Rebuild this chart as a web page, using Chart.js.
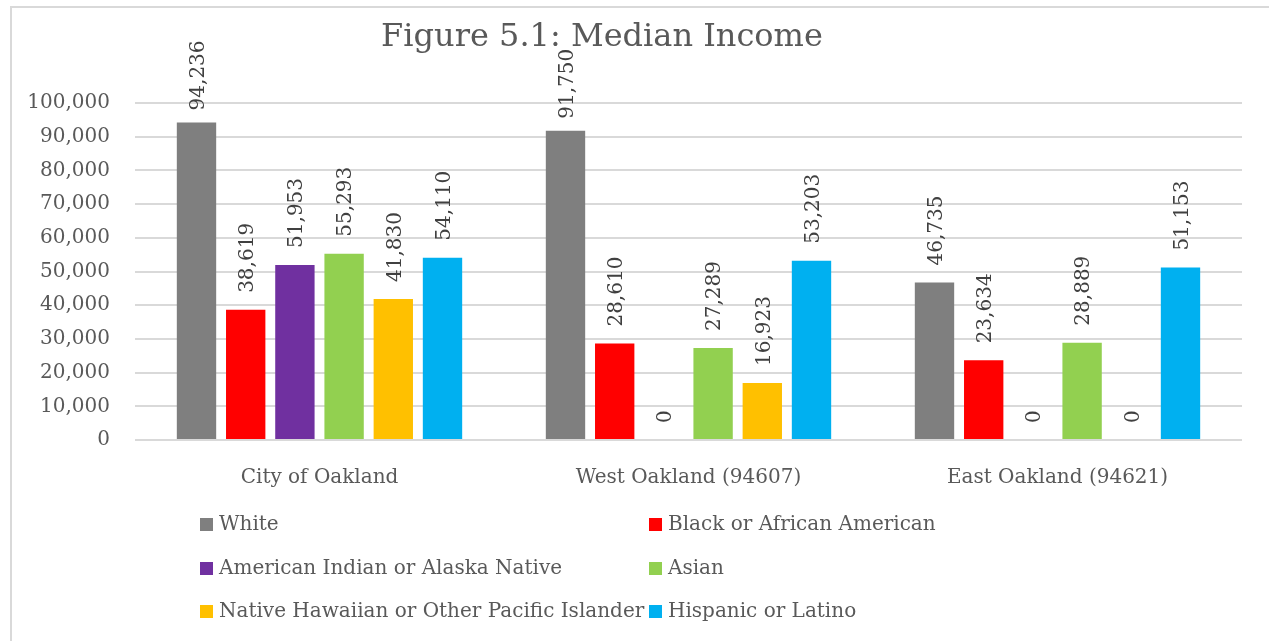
<!DOCTYPE html>
<html>
<head>
<meta charset="utf-8">
<script src="https://cdn.jsdelivr.net/npm/chart.js@4/dist/chart.umd.min.js"></script>
<style>
  html, body { margin: 0; padding: 0; background: #fff; }
  #wrap { width: 1269px; height: 641px; position: relative; }
</style>
</head>
<body>
<div id="wrap"><canvas id="grafica" width="1269" height="641"></canvas></div>
<script>
// datos
const areas = ['City of Oakland', 'West Oakland (94607)', 'East Oakland (94621)']
const grupos = ['White', 'Black or African American', 'American Indian or Alaska Native', 'Asian', 'Native Hawaiian or Other Pacific Islander', 'Hispanic or Latino']
const white = [94236, 91750, 46735]
const black = [38619, 28610, 23634]
const indian = [51953, 0, 0]
const asian = [55293, 27289, 28889]
const hawaiian = [41830, 16923, 0]
const latino = [54110, 53203, 51153]
const colores = ['#7f7f7f', '#ff0000', '#7030a0', '#92d050', '#ffc000', '#00b0f0']
const yTicks = [0, 10000, 20000, 30000, 40000, 50000, 60000, 70000, 80000, 90000, 100000]

const series = [white, black, indian, asian, hawaiian, latino]
const fuente = 'DejaVu Serif'

// marco gris, título, etiquetas de valor y leyenda
const extras = {
  id: 'extras',
  beforeDraw(chart) {
    const ctx = chart.ctx
    ctx.save()
    ctx.fillStyle = '#d9d9d9'
    ctx.fillRect(10, 6, chart.width - 10, 2)
    ctx.fillRect(10, 6, 2, chart.height - 6)
    ctx.restore()
  },
  afterDatasetsDraw(chart) {
    const ctx = chart.ctx
    ctx.save()
    ctx.fillStyle = '#404040'
    ctx.font = `20px "${fuente}"`
    ctx.textAlign = 'left'
    ctx.textBaseline = 'middle'
    chart.data.datasets.forEach((ds, i) => {
      const meta = chart.getDatasetMeta(i)
      meta.data.forEach((bar, j) => {
        //las etiquetas muy altas quedan más pegadas a la barra
        const gap = bar.y < 150 ? 12 : 17
        ctx.save()
        ctx.translate(bar.x + 1, bar.y - gap)
        ctx.rotate(-Math.PI / 2)
        ctx.fillText(ds.data[j].toLocaleString('en-US'), 0, 1)
        ctx.restore()
      })
    })
    ctx.restore()
  },
  afterDraw(chart) {
    const ctx = chart.ctx
    ctx.save()
    // título
    ctx.fillStyle = '#595959'
    ctx.font = `32px "${fuente}"`
    ctx.textAlign = 'center'
    ctx.textBaseline = 'middle'
    ctx.fillText('Figure 5.1: Median Income', 602, 38)
    // leyenda en dos columnas
    ctx.font = `20px "${fuente}"`
    ctx.textAlign = 'left'
    const colX = [200, 649]
    const filaY = [524, 568, 611]
    chart.data.datasets.forEach((ds, i) => {
      const x = colX[i % 2]
      const y = filaY[Math.floor(i / 2)]
      ctx.fillStyle = ds.backgroundColor
      ctx.fillRect(x, y - 6, 13, 13)
      ctx.fillStyle = '#595959'
      ctx.fillText(ds.label, x + 19, y + 1)
    })
    ctx.restore()
  }
}

const canva = document.querySelector('#grafica')
const myChart = new Chart(canva, {
  type: 'bar',
  data: {
    labels: areas,
    datasets: grupos.map((g, i) => ({
      label: g,
      data: series[i],
      backgroundColor: colores[i],
      borderWidth: 0,
      barPercentage: 0.8,
      categoryPercentage: 0.8
    }))
  },
  options: {
    responsive: false,
    animation: false,
    layout: { padding: { top: 103, right: 27, bottom: 0, left: 0 } },
    plugins: {
      legend: { display: false },
      title: { display: false },
      tooltip: { enabled: false }
    },
    scales: {
      x: {
        grid: { display: false },
        border: { display: false },
        ticks: { color: '#595959', font: { family: fuente, size: 20 }, padding: 18 },
        afterFit: s => { s.height = 201 }
      },
      y: {
        min: 0,
        max: 100000,
        afterBuildTicks: s => { s.ticks = yTicks.map(v => ({ value: v })) },
        grid: { color: '#d9d9d9', lineWidth: 2, drawTicks: false },
        border: { display: false },
        ticks: {
          color: '#595959',
          font: { family: fuente, size: 20 },
          padding: 25,
          callback: v => v.toLocaleString('en-US')
        },
        afterFit: s => { s.width = 135 }
      }
    }
  },
  plugins: [extras]
})
</script>
</body>
</html>
